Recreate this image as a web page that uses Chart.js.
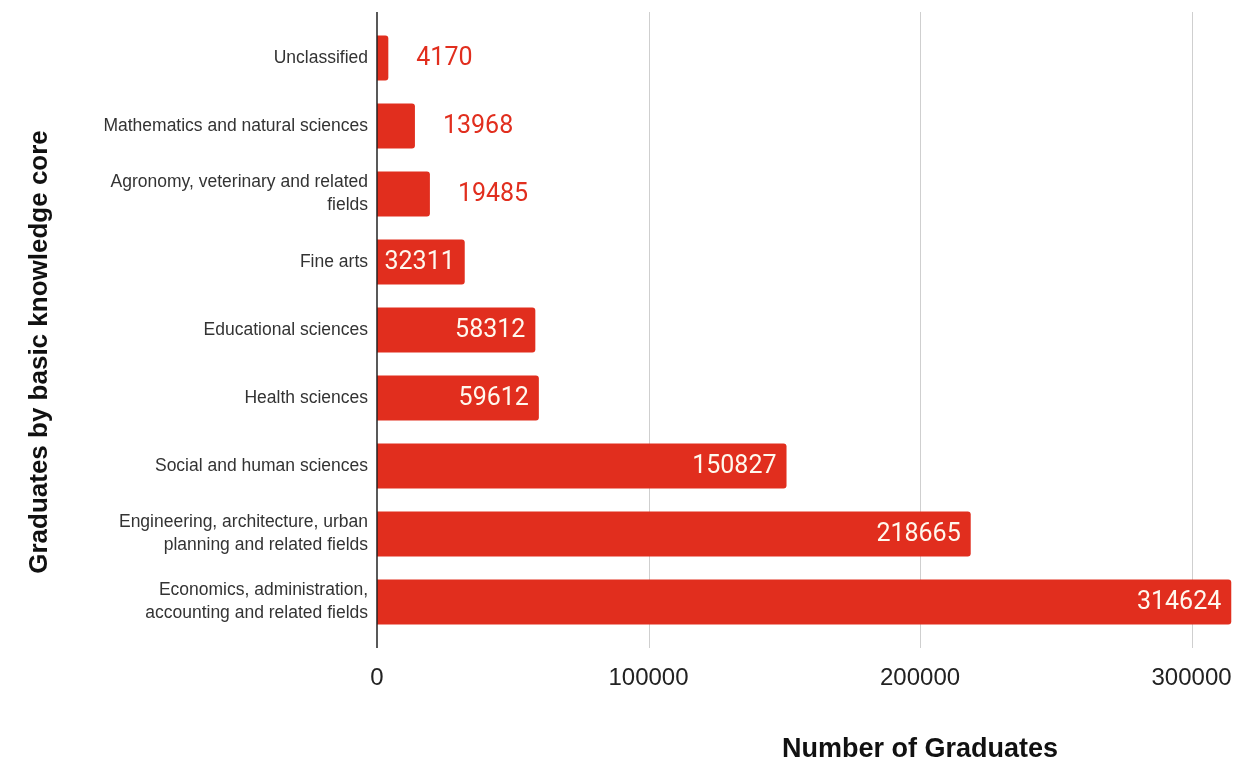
<!DOCTYPE html>
<html>
<head>
<meta charset="utf-8">
<script src="https://cdn.jsdelivr.net/npm/chart.js@4.4.1/dist/chart.umd.min.js"></script>
<style>
  html, body { margin: 0; padding: 0; background: #fff; }
  #wrap { width: 1255px; height: 764px; }
</style>
</head>
<body>
<div id="wrap"><canvas id="chart"></canvas></div>
<script>
// Graduates by basic knowledge core (bar lengths = graduates)
const categories = [
    'Unclassified',
    'Mathematics and natural sciences',
    ['Agronomy, veterinary and related', 'fields'],
    'Fine arts',
    'Educational sciences',
    'Health sciences',
    'Social and human sciences',
    ['Engineering, architecture, urban', 'planning and related fields'],
    ['Economics, administration,', 'accounting and related fields'],
];
const graduates = [4170, 13968, 19485, 32311, 58312, 59612, 150827, 218665, 314624];
const xTicks = [0, 100000, 200000, 300000];

const RED = '#e12e1e';

// grid lines, axis line, value labels and axis titles
const decor = {
    id: 'decor',
    beforeDatasetsDraw(chart) {
        const { ctx, chartArea: a, scales: { x } } = chart;
        const top = a.top - 12, bottom = a.bottom + 12;
        ctx.save();
        ctx.strokeStyle = '#cfcfcf';
        ctx.lineWidth = 1;
        xTicks.slice(1).forEach(v => {
            const px = Math.round(x.getPixelForValue(v)) + 0.5;
            ctx.beginPath(); ctx.moveTo(px, top); ctx.lineTo(px, bottom); ctx.stroke();
        });
        ctx.restore();
    },
    afterDatasetsDraw(chart) {
        const { ctx, chartArea: a, scales: { x } } = chart;
        ctx.save();
        const x0 = x.getPixelForValue(0);
        ctx.strokeStyle = '#222';
        ctx.lineWidth = 1.5;
        ctx.beginPath(); ctx.moveTo(x0, a.top - 12); ctx.lineTo(x0, a.bottom + 12); ctx.stroke();

        ctx.font = '25px Roboto';
        ctx.textBaseline = 'middle';
        chart.getDatasetMeta(0).data.forEach((bar, i) => {
            const txt = String(graduates[i]);
            const w = ctx.measureText(txt).width;
            if (bar.x - bar.base > w + 14) {
                ctx.fillStyle = '#fff8ee';
                ctx.textAlign = 'right';
                ctx.fillText(txt, bar.x - 10, bar.y + 1);
            } else {
                ctx.fillStyle = RED;
                ctx.textAlign = 'left';
                ctx.fillText(txt, bar.x + 28, bar.y + 1);
            }
        });

        ctx.fillStyle = '#111';
        ctx.textAlign = 'center';
        ctx.font = 'bold 27px "Liberation Sans"';
        ctx.fillText('Number of Graduates', 920, 750);
        ctx.font = 'bold 26px "Liberation Sans"';
        ctx.translate(40, 352);
        ctx.rotate(-Math.PI / 2);
        ctx.fillText('Graduates by basic knowledge core', 0, 0);
        ctx.restore();
    }
};

new Chart(document.getElementById('chart'), {
    type: 'bar',
    data: {
        labels: categories,
        datasets: [{
            data: graduates,
            backgroundColor: RED,
            borderRadius: 3,
            borderSkipped: 'start',
            categoryPercentage: 1,
            barPercentage: 0.66,
        }]
    },
    options: {
        indexAxis: 'y',
        responsive: true,
        maintainAspectRatio: false,
        animation: false,
        layout: { padding: { top: 24, right: 20, left: 0, bottom: 0 } },
        plugins: { legend: { display: false }, tooltip: { enabled: false } },
        scales: {
            x: {
                min: 0,
                max: 316000,
                afterBuildTicks: s => { s.ticks = xTicks.map(v => ({ value: v })); },
                afterFit: s => { s.height = 128; s.paddingLeft = 0; s.paddingRight = 0; },
                grid: { display: false, drawTicks: false },
                border: { display: false },
                ticks: {
                    padding: 28,
                    color: '#222',
                    font: { family: 'Liberation Sans', size: 24 },
                    maxRotation: 0,
                    callback: v => String(v),
                },
            },
            y: {
                afterFit: s => { s.width = 377; s.paddingTop = 0; s.paddingBottom = 0; },
                grid: { display: false, drawTicks: false },
                border: { display: false },
                ticks: {
                    padding: 9,
                    color: '#333',
                    font: { family: 'Liberation Sans', size: 17.5, lineHeight: 1.3 },
                },
            },
        },
    },
    plugins: [decor],
});
</script>
</body>
</html>
